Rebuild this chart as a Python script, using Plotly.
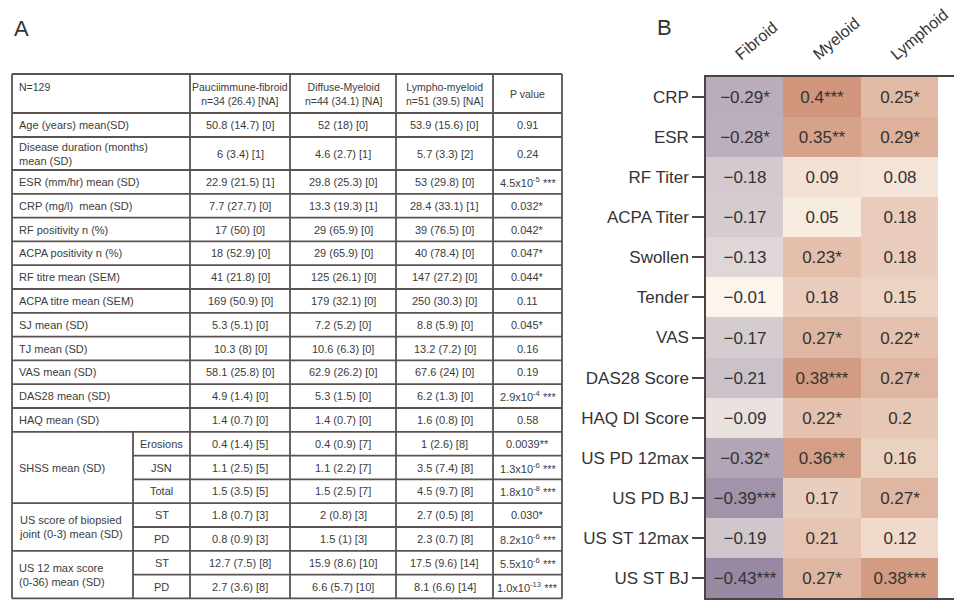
import plotly.graph_objects as go

# ---------------- Panel B: correlation of clinical variables with pathotype ----------------
clinical_vars = ["CRP", "ESR", "RF Titer", "ACPA Titer", "Swollen", "Tender", "VAS",
                 "DAS28 Score", "HAQ DI Score", "US PD 12max", "US PD BJ", "US ST 12max", "US ST BJ"]
pathotypes = ["Fibroid", "Myeloid", "Lymphoid"]

fibroid_r = [-0.29, -0.28, -0.18, -0.17, -0.13, -0.01, -0.17, -0.21, -0.09, -0.32, -0.39, -0.19, -0.43]
myeloid_r = [0.4, 0.35, 0.09, 0.05, 0.23, 0.18, 0.27, 0.38, 0.22, 0.36, 0.17, 0.21, 0.27]
lymphoid_r = [0.25, 0.29, 0.08, 0.18, 0.18, 0.15, 0.22, 0.27, 0.2, 0.16, 0.27, 0.12, 0.38]

# number of significance stars per cell
fibroid_sig = [1, 1, 0, 0, 0, 0, 0, 0, 0, 1, 3, 0, 3]
myeloid_sig = [3, 2, 0, 0, 1, 0, 1, 3, 1, 2, 0, 0, 1]
lymphoid_sig = [1, 1, 0, 0, 0, 0, 1, 1, 0, 0, 1, 0, 3]

# ---------------- Panel A: baseline characteristics table ----------------
table_header = ["N=129",
                "Pauciimmune-fibroid<br>n=34 (26.4) [NA]",
                "Diffuse-Myeloid<br>n=44 (34.1) [NA]",
                "Lympho-myeloid<br>n=51 (39.5) [NA]",
                "P value"]

row_labels = ["Age (years) mean(SD)", "Disease duration (months)<br>mean (SD)",
              "ESR (mm/hr) mean (SD)", "CRP (mg/l)  mean (SD)", "RF positivity n (%)",
              "ACPA positivity n (%)", "RF titre mean (SEM)", "ACPA titre mean (SEM)",
              "SJ mean (SD)", "TJ mean (SD)", "VAS mean (SD)", "DAS28 mean (SD)",
              "HAQ mean (SD)", "Erosions", "JSN", "Total", "ST", "PD", "ST", "PD"]

# (label, first row index, number of rows) for rows that share a merged label cell
row_groups = [("SHSS mean (SD)", 13, 3),
              ("US score of biopsied<br>joint (0-3) mean (SD)", 16, 2),
              ("US 12 max score<br>(0-36) mean (SD)", 18, 2)]

fibroid_col = ["50.8 (14.7) [0]", "6 (3.4) [1]", "22.9 (21.5) [1]", "7.7 (27.7) [0]",
               "17 (50) [0]", "18 (52.9) [0]", "41 (21.8) [0]", "169 (50.9) [0]",
               "5.3 (5.1) [0]", "10.3 (8) [0]", "58.1 (25.8) [0]", "4.9 (1.4) [0]",
               "1.4 (0.7) [0]", "0.4 (1.4) [5]", "1.1 (2.5) [5]", "1.5 (3.5) [5]",
               "1.8 (0.7) [3]", "0.8 (0.9) [3]", "12.7 (7.5) [8]", "2.7 (3.6) [8]"]
myeloid_col = ["52 (18) [0]", "4.6 (2.7) [1]", "29.8 (25.3) [0]", "13.3 (19.3) [1]",
               "29 (65.9) [0]", "29 (65.9) [0]", "125 (26.1) [0]", "179 (32.1) [0]",
               "7.2 (5.2) [0]", "10.6 (6.3) [0]", "62.9 (26.2) [0]", "5.3 (1.5) [0]",
               "1.4 (0.7) [0]", "0.4 (0.9) [7]", "1.1 (2.2) [7]", "1.5 (2.5) [7]",
               "2 (0.8) [3]", "1.5 (1) [3]", "15.9 (8.6) [10]", "6.6 (5.7) [10]"]
lympho_col = ["53.9 (15.6) [0]", "5.7 (3.3) [2]", "53 (29.8) [0]", "28.4 (33.1) [1]",
              "39 (76.5) [0]", "40 (78.4) [0]", "147 (27.2) [0]", "250 (30.3) [0]",
              "8.8 (5.9) [0]", "13.2 (7.2) [0]", "67.6 (24) [0]", "6.2 (1.3) [0]",
              "1.6 (0.8) [0]", "1 (2.6) [8]", "3.5 (7.4) [8]", "4.5 (9.7) [8]",
              "2.7 (0.5) [8]", "2.3 (0.7) [8]", "17.5 (9.6) [14]", "8.1 (6.6) [14]"]
p_values = ["0.91", "0.24", "4.5x10<sup>-5</sup> ***", "0.032*", "0.042*", "0.047*",
            "0.044*", "0.11", "0.045*", "0.16", "0.19", "2.9x10<sup>-4</sup> ***", "0.58",
            "0.0039**", "1.3x10<sup>-6</sup> ***", "1.8x10<sup>-8</sup> ***", "0.030*",
            "8.2x10<sup>-6</sup> ***", "5.5x10<sup>-6</sup> ***", "1.0x10<sup>-13</sup> ***"]

FONT = "Liberation Sans, Arial, Helvetica, sans-serif"
W, H = 954, 600


def fmt_r(v, n):
    s = f"{v:g}".replace("-", "\u2212")
    return s + "*" * n


z = [[f, m, l] for f, m, l in zip(fibroid_r, myeloid_r, lymphoid_r)]
cell_text = [[fmt_r(f, fs), fmt_r(m, ms), fmt_r(l, ls)]
             for f, m, l, fs, ms, ls in zip(fibroid_r, myeloid_r, lymphoid_r,
                                             fibroid_sig, myeloid_sig, lymphoid_sig)]

fig = go.Figure()

# empty trace that carries the table coordinate system (drawn first, underneath)
fig.add_trace(go.Scatter(x=[None], y=[None], xaxis="x2", yaxis="y2",
                         showlegend=False, hoverinfo="skip"))

fig.add_trace(go.Heatmap(
    z=z, x=pathotypes, y=clinical_vars,
    text=cell_text, texttemplate="%{text}",
    textfont=dict(family=FONT, size=17, color="#333333"),
    colorscale=[[0.0, "rgb(135,118,150)"], [0.5, "rgb(253,248,238)"], [1.0, "rgb(198,125,95)"]],
    zmin=-0.5, zmax=0.5, showscale=False,
    xaxis="x", yaxis="y",
))

# ---- table geometry (in pixel-like units of the x2/y2 axes) ----
col_edges = [12, 190, 290, 396, 493, 562]
sub_edge = 133
table_top = 74
header_h = 39
row_heights = [24, 33] + [23.8] * 18

row_tops = []
y = table_top + header_h
for h in row_heights:
    row_tops.append(y)
    y += h
table_bottom = y

line_style = dict(color="#5d5252", width=1.8)
shapes = []
grouped_rows = set()
for _, start, n in row_groups:
    grouped_rows.update(range(start + 1, start + n))

# horizontal rules
shapes.append(dict(type="line", xref="x2", yref="y2", x0=col_edges[0], x1=col_edges[-1],
                   y0=table_top, y1=table_top, line=line_style))
for i, top in enumerate(row_tops):
    x0 = sub_edge if i in grouped_rows else col_edges[0]
    shapes.append(dict(type="line", xref="x2", yref="y2", x0=x0, x1=col_edges[-1],
                       y0=top, y1=top, line=line_style))
shapes.append(dict(type="line", xref="x2", yref="y2", x0=col_edges[0], x1=col_edges[-1],
                   y0=table_bottom, y1=table_bottom, line=line_style))
# vertical rules
for xe in col_edges:
    shapes.append(dict(type="line", xref="x2", yref="y2", x0=xe, x1=xe,
                       y0=table_top, y1=table_bottom, line=line_style))
first_group = row_groups[0][1]
shapes.append(dict(type="line", xref="x2", yref="y2", x0=sub_edge, x1=sub_edge,
                   y0=row_tops[first_group], y1=table_bottom, line=line_style))

annotations = []
body_font = dict(family=FONT, size=11, color="#3c3c3c")
head_font = dict(family=FONT, size=10.5, color="#3c3c3c")


def add_text(x, yc, s, anchor="center", font=body_font):
    annotations.append(dict(xref="x2", yref="y2", x=x, y=yc, text=s, showarrow=False,
                            xanchor=anchor, yanchor="middle",
                            align=anchor if anchor != "center" else "center",
                            font=font))


col_centers = [(col_edges[k] + col_edges[k + 1]) / 2 for k in range(len(col_edges) - 1)]
hdr_mid = table_top + header_h / 2
add_text(col_edges[0] + 5, hdr_mid - 7, table_header[0], "left", head_font)
for k in range(1, 5):
    add_text(col_centers[k], hdr_mid, table_header[k], font=head_font)

in_group = set()
for _, start, n in row_groups:
    in_group.update(range(start, start + n))

for i, label in enumerate(row_labels):
    mid = row_tops[i] + row_heights[i] / 2
    if i in in_group:
        add_text((sub_edge + col_edges[1]) / 2, mid, label)
    else:
        add_text(col_edges[0] + 5, mid, label, "left")
    add_text(col_centers[1], mid, fibroid_col[i])
    add_text(col_centers[2], mid, myeloid_col[i])
    add_text(col_centers[3], mid, lympho_col[i])
    add_text(col_centers[4], mid, p_values[i])

for label, start, n in row_groups:
    mid = row_tops[start] + sum(row_heights[start:start + n]) / 2
    add_text(col_edges[0] + 5, mid, label, "left")

# rotated pathotype labels above the heatmap columns
for name in pathotypes:
    annotations.append(dict(xref="x", yref="paper", x=name, y=1 - 66 / H, text=name,
                            showarrow=False, textangle=-40, xanchor="left", yanchor="bottom",
                            xshift=-15, font=dict(family=FONT, size=16, color="#333333")))

# panel letters
annotations.append(dict(xref="paper", yref="paper", x=12 / W, y=1 - 14 / H, text="A",
                        showarrow=False, xanchor="left", yanchor="top",
                        font=dict(family=FONT, size=22, color="#333333")))
annotations.append(dict(xref="paper", yref="paper", x=655 / W, y=1 - 13 / H, text="B",
                        showarrow=False, xanchor="left", yanchor="top",
                        font=dict(family=FONT, size=22, color="#333333")))

axis_line = "#4a4444"
fig.update_layout(
    width=W, height=H, autosize=False,
    margin=dict(l=0, r=0, t=0, b=0, pad=0),
    paper_bgcolor="white", plot_bgcolor="rgba(0,0,0,0)",
    font=dict(family=FONT),
    xaxis=dict(domain=[706 / W, 1.0], side="top", ticks="", showticklabels=False,
               showline=True, linecolor=axis_line, linewidth=1.5, mirror=True,
               showgrid=False, zeroline=False, fixedrange=True, anchor="y",
               automargin=False),
    yaxis=dict(domain=[1 - 598 / H, 1 - 77 / H], autorange="reversed",
               ticks="outside", ticklen=12, tickwidth=1.5, tickcolor=axis_line,
               tickfont=dict(family=FONT, size=17, color="#333333"),
               showline=True, linecolor=axis_line, linewidth=1.5, mirror=True,
               showgrid=False, zeroline=False, fixedrange=True, anchor="x",
               automargin=False),
    xaxis2=dict(domain=[0, 1], range=[0, W], visible=False, fixedrange=True, anchor="y2",
                automargin=False),
    yaxis2=dict(domain=[0, 1], range=[H, 0], visible=False, fixedrange=True, anchor="x2",
                automargin=False),
    shapes=shapes,
    annotations=annotations,
    showlegend=False,
)

fig.write_html("out.html")
